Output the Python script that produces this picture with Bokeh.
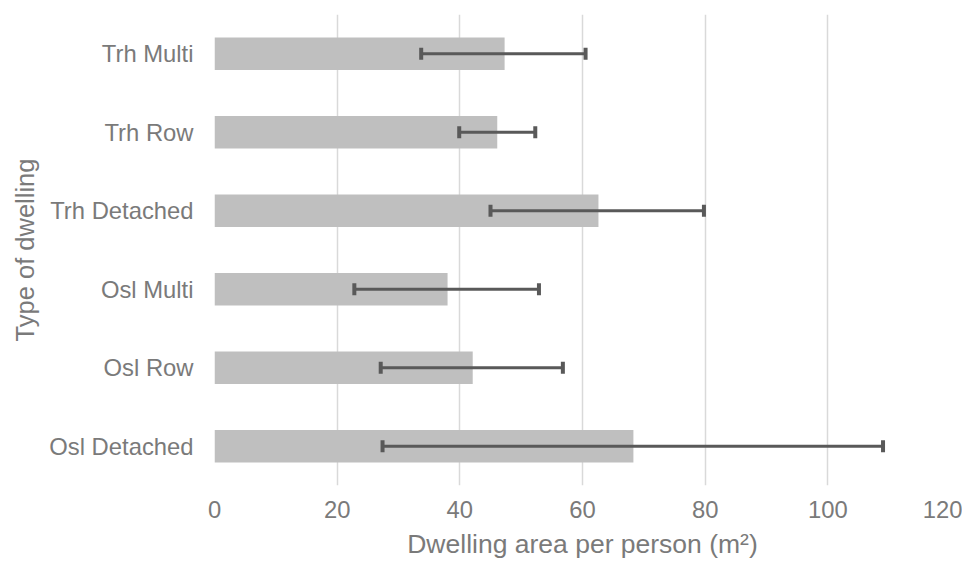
from bokeh.plotting import figure
from bokeh.models import Range1d, FactorRange, FixedTicker
from bokeh.embed import file_html
from bokeh.resources import INLINE

# Data (top to bottom as shown in the chart)
categories = ["Trh Multi", "Trh Row", "Trh Detached", "Osl Multi", "Osl Row", "Osl Detached"]
mean_area = [47.3, 46.1, 62.6, 38.0, 42.1, 68.3]
err_lower = [33.7, 39.9, 45.0, 22.8, 27.1, 27.4]
err_upper = [60.5, 52.3, 79.8, 52.9, 56.8, 109.0]
x_ticks = [0, 20, 40, 60, 80, 100, 120]

FONT = "Liberation Sans"
TEXT = "#7a7a7a"

factors = list(reversed(categories))
p = figure(width=962, height=564,
           y_range=FactorRange(factors=factors, range_padding=0),
           x_range=Range1d(0, 120),
           output_backend="svg", toolbar_location=None,
           min_border_left=214, min_border_right=12,
           min_border_top=14, min_border_bottom=79)

p.hbar(y=categories, left=0, right=mean_area, height=0.416,
       fill_color="#bfbfbf", line_color=None)
p.segment(x0=err_lower, x1=err_upper, y0=categories, y1=categories,
          line_color="#595959", line_width=3)
p.rect(x=err_lower + err_upper, y=categories + categories, width=4, height=12,
       width_units="screen", height_units="screen",
       fill_color="#595959", line_color=None)

p.outline_line_color = None
p.xgrid.ticker = FixedTicker(ticks=x_ticks)
p.xgrid.grid_line_color = "#d9d9d9"
p.xgrid.grid_line_width = 1.5
p.ygrid.grid_line_color = None

p.xaxis.ticker = FixedTicker(ticks=x_ticks)
for ax in (p.xaxis, p.yaxis):
    ax.axis_line_color = None
    ax.major_tick_line_color = None
    ax.minor_tick_line_color = None
    ax.major_tick_out = 0
    ax.major_tick_in = 0
    ax.major_label_text_font = FONT
    ax.major_label_text_font_size = "23.8px"
    ax.major_label_text_color = TEXT
    ax.axis_label_text_font = FONT
    ax.axis_label_text_font_style = "normal"
    ax.axis_label_text_color = TEXT

p.xaxis.axis_label = "Dwelling area per person (m²)"
p.yaxis.axis_label = "Type of dwelling"
p.xaxis.axis_label_text_font_size = "26.5px"
p.yaxis.axis_label_text_font_size = "25.5px"
p.xaxis.major_label_standoff = 15
p.xaxis.axis_label_standoff = 8
p.yaxis.major_label_standoff = 21
p.yaxis.axis_label_standoff = 7

open("out.html", "w").write(file_html(p, INLINE))
